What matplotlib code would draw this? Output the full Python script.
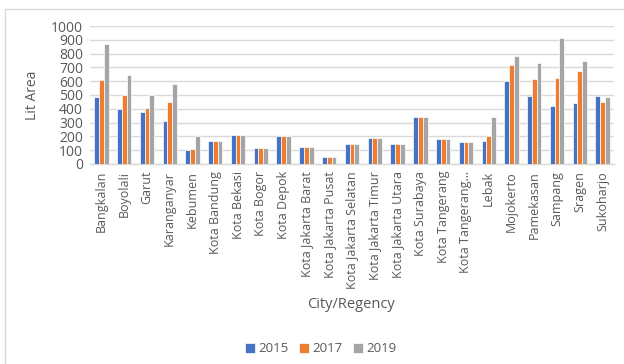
import matplotlib
matplotlib.use("Agg")
import matplotlib.pyplot as plt
import numpy as np
from matplotlib.lines import Line2D

cities = ["Bangkalan", "Boyolali", "Garut", "Karanganyar", "Kebumen",
          "Kota Bandung", "Kota Bekasi", "Kota Bogor", "Kota Depok",
          "Kota Jakarta Barat", "Kota Jakarta Pusat", "Kota Jakarta Selatan",
          "Kota Jakarta Timur", "Kota Jakarta Utara", "Kota Surabaya",
          "Kota Tangerang", "Kota Tangerang\u2026", "Lebak", "Mojokerto",
          "Pamekasan", "Sampang", "Sragen", "Sukoharjo"]
lit_2015 = [483, 401, 380, 308, 101, 167, 210, 113, 200, 124, 48, 147,
            185, 142, 337, 180, 161, 168, 603, 495, 418, 445, 495]
lit_2017 = [611, 500, 409, 452, 106, 167, 210, 113, 200, 124, 48, 147,
            185, 142, 337, 180, 161, 202, 714, 615, 623, 671, 452]
lit_2019 = [868, 642, 500, 577, 204, 167, 210, 113, 200, 124, 48, 147,
            185, 142, 337, 180, 161, 337, 784, 731, 913, 748, 483]
years = ["2015", "2017", "2019"]
colors = ["#4472C4", "#ED7D31", "#A5A5A5"]
yticks = list(range(0, 1001, 100))

W, H = 624, 364
fig = plt.figure(figsize=(W / 100, H / 100), dpi=100)
plt.rcParams["font.family"] = ["Open Sans", "DejaVu Sans"]
text_color = "#595959"
grid_color = "#D9D9D9"

# chart area frame
fig.add_artist(Line2D([5 / W, 5 / W], [0, 1 - 9 / H], transform=fig.transFigure,
                      color=grid_color, lw=1.0))
fig.add_artist(Line2D([5 / W, 1], [1 - 9 / H, 1 - 9 / H], transform=fig.transFigure,
                      color=grid_color, lw=1.0))

left, right, top, bottom = 90, 614, 26, 164
ax = fig.add_axes([left / W, 1 - bottom / H, (right - left) / W, (bottom - top) / H])

x = np.arange(len(cities))
bw = 0.21
for i, (vals, yr, c) in enumerate(zip([lit_2015, lit_2017, lit_2019], years, colors)):
    ax.bar(x + (i - 1) * bw, vals, width=bw, color=c, edgecolor="white",
           linewidth=0.5, label=yr, zorder=3)

ax.set_xlim(-0.5, len(cities) - 0.5)
ax.set_ylim(0, 1000)
ax.set_yticks(yticks)
ax.set_yticklabels([str(v) for v in yticks], fontsize=10, color=text_color)
ax.set_xticks(x)
ax.set_xticklabels(cities, rotation=90, fontsize=9, color=text_color)
ax.tick_params(axis="both", length=0, pad=5)
ax.grid(axis="y", color=grid_color, lw=1.0, zorder=0)
for s in ["top", "right", "left"]:
    ax.spines[s].set_visible(False)
ax.spines["bottom"].set_color(grid_color)
ax.spines["bottom"].set_linewidth(1.0)

ax.set_ylabel("Lit Area", fontsize=10, color=text_color, labelpad=8)
fig.text(351 / W, 1 - 305 / H, "City/Regency", fontsize=10.5, color=text_color,
         ha="center", va="center")

fig.legend(loc="center", bbox_to_anchor=(321 / W, 1 - 349 / H), ncol=3,
           frameon=False, fontsize=9.5, labelcolor=text_color,
           handlelength=0.7, handleheight=0.7, handletextpad=0.3,
           columnspacing=0.8)

fig.savefig("out.png", dpi=100, facecolor="white")
